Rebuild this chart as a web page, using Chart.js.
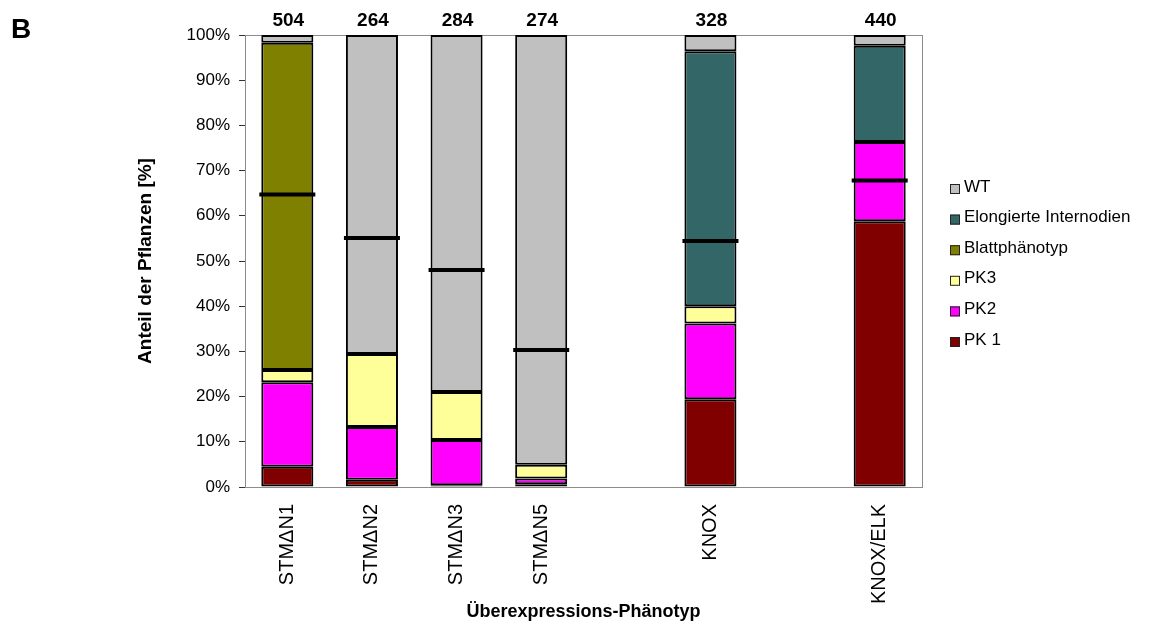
<!DOCTYPE html>
<html lang="de">
<head>
<meta charset="utf-8">
<title>Überexpressions-Phänotyp</title>
<script src="https://cdn.jsdelivr.net/npm/chart.js@4/dist/chart.umd.min.js"></script>
<style>
  html, body { margin: 0; padding: 0; background: #ffffff; }
  #wrap { width: 1151px; height: 625px; position: relative; }
</style>
</head>
<body>
<div id="wrap"><canvas id="chart" width="1151" height="625"></canvas></div>
<script>
// Categories (empty slots keep the gaps between the construct groups)
const categories = ['STM\u0394N1', 'STM\u0394N2', 'STM\u0394N3', 'STM\u0394N5', '', 'KNOX', '', 'KNOX/ELK'];

// Share of plants per phenotype class [%]
const pk1   = [4.5, 1.6, 0.4, 0.6, null, 19.4, null, 58.8];
const pk2   = [18.7, 11.7, 10.0, 1.3, null, 16.8, null, 17.5];
const pk3   = [2.7, 16.1, 10.6, 3.0, null, 3.8, null, null];
const blatt = [72.4, null, null, null, null, null, null, null];
const elong = [null, null, null, null, null, 56.4, null, 21.3];
const wt    = [1.7, 70.6, 79.0, 95.1, null, 3.6, null, 2.4];

// Mean marker per construct [%]
const means = [64.7, 55.1, 48.0, 30.3, null, 54.4, null, 67.8];

// Number of plants per construct
const counts = [504, 264, 284, 274, null, 328, null, 440];

// Y tick values
const yTicks = [0, 10, 20, 30, 40, 50, 60, 70, 80, 90, 100];

const FONT = "'Liberation Sans', Arial, sans-serif";

function barSet(label, data, color) {
  return {
    type: 'bar', label, data,
    backgroundColor: color, borderColor: '#000000', borderWidth: 2,
    borderSkipped: false, stack: 'share', order: 1,
    barPercentage: 1, categoryPercentage: 0.615
  };
}

const datasets = [
  barSet('PK 1', pk1, '#800000'),
  barSet('PK2', pk2, '#FF00FF'),
  barSet('PK3', pk3, '#FFFF99'),
  barSet('Blattphänotyp', blatt, '#808000'),
  barSet('Elongierte Internodien', elong, '#336666'),
  barSet('WT', wt, '#C0C0C0'),
  {
    type: 'line', label: 'mean', data: means, stack: 'mean', order: 0,
    showLine: false, pointStyle: 'line', pointRadius: 28, pointHoverRadius: 28,
    borderColor: '#000000', pointBorderColor: '#000000', pointBorderWidth: 4,
    backgroundColor: '#000000'
  }
];

// Plot frame in grey, drawn beneath the bars
const framePlugin = {
  id: 'frame',
  beforeDatasetsDraw(chart) {
    const { ctx, chartArea: a } = chart;
    ctx.save();
    ctx.strokeStyle = '#8c8c8c';
    ctx.lineWidth = 1;
    ctx.strokeRect(a.left + 0.5, a.top + 0.5, a.right - a.left, a.bottom - a.top);
    ctx.restore();
  }
};

// Plant counts above the bars, panel letter, legend
const annotatePlugin = {
  id: 'annotate',
  afterDraw(chart) {
    const { ctx } = chart;
    const x = chart.scales.x;
    ctx.save();
    ctx.fillStyle = '#000000';
    ctx.textAlign = 'center';
    ctx.textBaseline = 'alphabetic';
    ctx.font = 'bold 19px ' + FONT;
    counts.forEach((n, i) => {
      if (n == null) return;
      ctx.fillText(String(n), x.getPixelForValue(i) + 1, 26);
    });

    ctx.textAlign = 'left';
    ctx.font = 'bold 28px ' + FONT;
    ctx.fillText('B', 11, 38);

    // legend, reversed stacking order
    ctx.font = '17px ' + FONT;
    ctx.textBaseline = 'middle';
    const items = chart.data.datasets.filter(d => d.type === 'bar').slice().reverse();
    items.forEach((d, k) => {
      const cy = 187 + k * 30.6;
      ctx.fillStyle = d.backgroundColor;
      ctx.fillRect(950, cy - 3, 10, 10);
      ctx.strokeStyle = '#222222';
      ctx.lineWidth = 1;
      ctx.strokeRect(950.5, cy - 2.5, 9, 9);
      ctx.fillStyle = '#000000';
      ctx.fillText(d.label, 964, cy);
    });
    ctx.restore();
  }
};

new Chart(document.getElementById('chart'), {
  data: { labels: categories, datasets },
  options: {
    responsive: false,
    animation: false,
    events: [],
    layout: { padding: { left: 130, right: 229, top: 35, bottom: 0 } },
    plugins: { legend: { display: false }, tooltip: { enabled: false } },
    scales: {
      x: {
        stacked: true,
        grid: { display: false, drawTicks: false },
        border: { display: false },
        ticks: {
          minRotation: 90, maxRotation: 90, autoSkip: false, padding: 17,
          color: '#000000', font: { family: FONT, size: 20 }
        },
        title: {
          display: true, text: 'Überexpressions-Phänotyp', color: '#000000',
          font: { family: FONT, size: 18, weight: 'bold' }, padding: { top: 0, bottom: 2 }
        },
        afterFit(scale) { scale.height = 138; }
      },
      y: {
        stacked: true,
        min: 0, max: 100,
        afterBuildTicks(scale) { scale.ticks = yTicks.map(v => ({ value: v })); },
        grid: { drawOnChartArea: false, drawTicks: true, tickLength: 6, color: '#333333' },
        border: { display: true, color: '#333333', width: 1 },
        ticks: {
          padding: 9, color: '#000000', font: { family: FONT, size: 17 },
          callback: v => v + '%'
        },
        title: {
          display: true, text: 'Anteil der Pflanzen [%]', color: '#000000',
          font: { family: FONT, size: 19, weight: 'bold' }, padding: { top: 4, bottom: 0 }
        },
        afterFit(scale) { scale.width = 115; }
      }
    }
  },
  plugins: [framePlugin, annotatePlugin]
});
</script>
</body>
</html>
